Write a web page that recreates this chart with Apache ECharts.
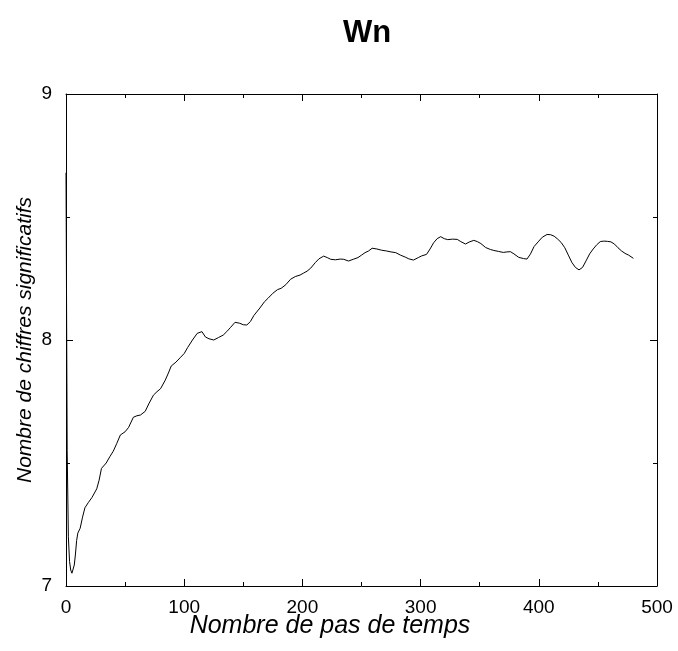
<!DOCTYPE html>
<html><head><meta charset="utf-8">
<script src="https://cdn.jsdelivr.net/npm/echarts@6/dist/echarts.min.js"></script>
<style>html,body{margin:0;padding:0;background:#fff}#c{width:678px;height:651px}</style>
</head><body><div id="c"></div>
<script>
const titleText = 'Wn';
const xTitle = 'Nombre de pas de temps';
const yTitle = 'Nombre de chiffres significatifs';
const steps = [0,1,2,3,4,5,6,7,8,9,10,12,14,16,19,22,26,28,30,34,37,40,43,46,50,53,57,60,63,67,70,74,77,80,84,87,89,93,97,100,103,107,111,115,118,121,125,129,133,136,139,143,147,150,153,156,159,164,168,171,175,179,182,186,190,194,198,201,204,207,211,214,218,221,224,228,232,235,239,243,247,250,253,256,259,263,267,271,275,279,283,287,290,294,298,301,305,308,311,314,317,320,323,327,331,334,338,341,345,348,351,355,359,362,366,370,373,376,379,383,387,390,393,396,400,403,407,410,413,416,419,422,425,428,431,434,437,440,443,446,449,452,455,458,461,464,467,470,473,476,480];
const digits = [8.68,7.55,7.2,7.1,7.065,7.052,7.058,7.085,7.13,7.185,7.215,7.235,7.28,7.318,7.34,7.36,7.395,7.43,7.478,7.5,7.525,7.548,7.58,7.614,7.627,7.645,7.686,7.692,7.695,7.71,7.74,7.776,7.79,7.802,7.837,7.87,7.894,7.91,7.93,7.945,7.97,8.0,8.027,8.034,8.012,8.005,8.0,8.01,8.02,8.034,8.05,8.072,8.068,8.062,8.061,8.075,8.1,8.13,8.156,8.17,8.19,8.205,8.21,8.225,8.247,8.258,8.264,8.272,8.28,8.292,8.315,8.33,8.341,8.335,8.328,8.326,8.329,8.328,8.321,8.328,8.335,8.345,8.355,8.362,8.373,8.37,8.365,8.362,8.358,8.355,8.345,8.337,8.33,8.325,8.335,8.342,8.348,8.37,8.395,8.412,8.42,8.412,8.408,8.41,8.409,8.4,8.39,8.398,8.405,8.4,8.392,8.376,8.368,8.364,8.36,8.356,8.358,8.359,8.35,8.336,8.331,8.329,8.35,8.38,8.402,8.418,8.429,8.428,8.422,8.41,8.396,8.375,8.345,8.315,8.295,8.285,8.295,8.322,8.35,8.37,8.387,8.4,8.402,8.401,8.399,8.39,8.375,8.362,8.352,8.345,8.332];
const xTicks = [0,100,200,300,400,500];
const yTicks = [7,8,9];

const FONT = '"Liberation Sans", Arial, sans-serif';
const chart = echarts.init(document.getElementById('c'), null, {renderer:'canvas'});
const tickCommon = {
  axisLine:{show:true, onZero:false, lineStyle:{color:'#000', width:1}},
  axisTick:{show:true, inside:true, length:7, lineStyle:{color:'#000', width:1}},
  minorTick:{show:true, splitNumber:2, length:4, lineStyle:{color:'#000', width:1}},
  splitLine:{show:false}, minorSplitLine:{show:false}
};
chart.setOption({
  animation:false,
  backgroundColor:'#fff',
  title:{text:titleText, left:362, top:13, textAlign:'center',
    textStyle:{fontFamily:FONT, fontWeight:'bold', fontSize:31, color:'#000'}},
  grid:{left:66, right:21, top:94, bottom:65},
  xAxis:[
    Object.assign({type:'value', min:xTicks[0], max:xTicks[xTicks.length-1], interval:100, position:'bottom',
      axisLabel:{show:true, margin:12, fontFamily:FONT, fontSize:19, color:'#000'}}, tickCommon),
    Object.assign({type:'value', min:xTicks[0], max:xTicks[xTicks.length-1], interval:100, position:'top',
      axisLabel:{show:false}}, tickCommon)
  ],
  yAxis:[
    Object.assign({type:'value', min:yTicks[0], max:yTicks[yTicks.length-1], interval:1, position:'left',
      axisLabel:{show:true, margin:14, fontFamily:FONT, fontSize:19, color:'#000'}}, tickCommon),
    Object.assign({type:'value', min:yTicks[0], max:yTicks[yTicks.length-1], interval:1, position:'right',
      axisLabel:{show:false}}, tickCommon)
  ],
  graphic:[
    {type:'text', x:330, y:626, style:{text:xTitle, x:0, y:0, align:'center', verticalAlign:'middle',
      font:'italic 25px ' + FONT, fill:'#000'}},
    {type:'text', x:25, y:340, rotation:Math.PI/2, style:{text:yTitle, x:0, y:0, align:'center', verticalAlign:'middle',
      font:'italic 21px ' + FONT, fill:'#000'}}
  ],
  series:[{type:'line', xAxisIndex:0, yAxisIndex:0, showSymbol:false, symbol:'none',
    lineStyle:{color:'#000', width:1}, data:steps.map((s,i)=>[s,digits[i]])}]
});
</script></body></html>
